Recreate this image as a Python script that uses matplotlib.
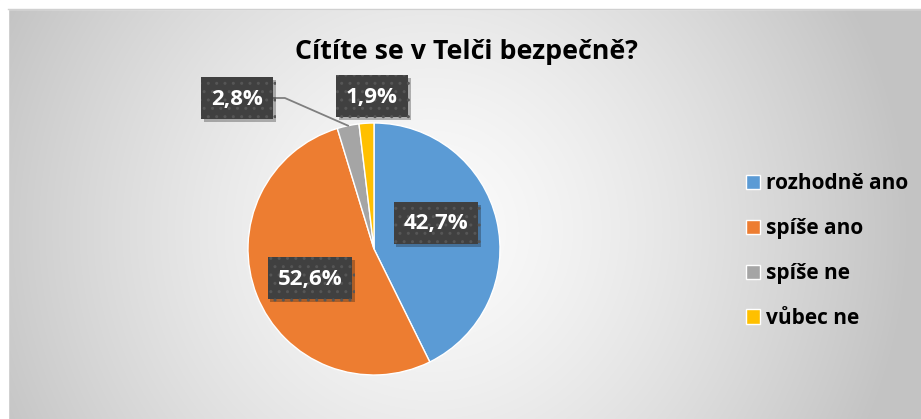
import numpy as np
import matplotlib.pyplot as plt
from matplotlib.patches import Rectangle, FancyBboxPatch
import matplotlib.patheffects as pe

W, H = 921, 419

categories = ["rozhodně ano", "spíše ano", "spíše ne", "vůbec ne"]
values = [42.7, 52.6, 2.8, 1.9]
colors = ["#5B9BD5", "#ED7D31", "#A5A5A5", "#FFC000"]
title = "Cítíte se v Telči bezpečně?"

# label box centres, pixels from the top left corner
label_xy = [(436, 223), (310, 278), (237, 98), (372, 96)]

plt.rcParams['font.family'] = ['Open Sans', 'DejaVu Sans']

def Y(y):
    return H - y

fig = plt.figure(figsize=(W / 100, H / 100), dpi=100)
ax = fig.add_axes([0, 0, 1, 1])

#radial grey background of the chart area
yy, xx = np.mgrid[0:H, 0:W]
d = np.clip(np.hypot(xx - 430, yy - 230) / 480.0, 0, 1)
g = 0.985 - (0.985 - 0.765) * d ** 1.4
ax.imshow(np.dstack([g, g, g]), extent=(0, W, 0, H), origin='upper', zorder=0)
ax.add_patch(Rectangle((0, Y(9)), W, 9, color='white', zorder=1))
ax.add_patch(Rectangle((0, 0), 8, H, color='white', zorder=1))
ax.plot([8, W], [Y(9), Y(9)], color='#d0d0d0', lw=1, zorder=1)

cx, cy, r = 374, 249, 126
wedges, _ = ax.pie(values, colors=colors, startangle=90, counterclock=False,
                   center=(cx, Y(cy)), radius=r, frame=True,
                   wedgeprops=dict(edgecolor='white', linewidth=1, zorder=2))

ax.set_xlim(0, W)
ax.set_ylim(0, H)
ax.set_aspect('auto')
ax.axis('off')

texts = []
for (x, y), v in zip(label_xy, values):
    s = f"{v:.1f}".replace('.', ',') + "%"
    t = ax.text(x, Y(y) - 1, s, ha='center', va='center', color='white',
                fontsize=16, fontweight='bold', zorder=6)
    texts.append(t)

fig.canvas.draw()
rend = fig.canvas.get_renderer()
boxes = []
for t, (x, y) in zip(texts, label_xy):
    bw = t.get_window_extent(rend).width + 20
    bh = 42
    b = FancyBboxPatch((x - bw / 2, Y(y) - bh / 2), bw, bh, boxstyle='square,pad=0',
                       fc='#404040', ec='#565656', hatch='..', lw=0, zorder=5)
    b.set_path_effects([pe.withSimplePatchShadow(offset=(2, -2), alpha=0.3), pe.Normal()])
    ax.add_patch(b)
    boxes.append(b)

#leader line for the small grey slice
w = wedges[2]
mid = np.radians((w.theta1 + w.theta2) / 2)
ex, ey = cx + r * np.cos(mid), Y(cy) + r * np.sin(mid)
bx = boxes[2].get_x() + boxes[2].get_width()
ly = Y(label_xy[2][1])
ax.plot([bx, bx + 12, ex], [ly, ly, ey], color='#7F7F7F', lw=1.3, zorder=3)

ax.text(466, Y(52), title, ha='center', va='center', fontsize=19.3, fontweight='bold', color='black')

ax.legend(wedges, categories, loc='center left', bbox_to_anchor=(727 / W, Y(251) / H),
          frameon=False, handlelength=0.68, handleheight=0.68, handletextpad=0.28,
          labelspacing=1.15, prop=dict(size=15, weight='bold'))

fig.savefig('out.png', dpi=100)
